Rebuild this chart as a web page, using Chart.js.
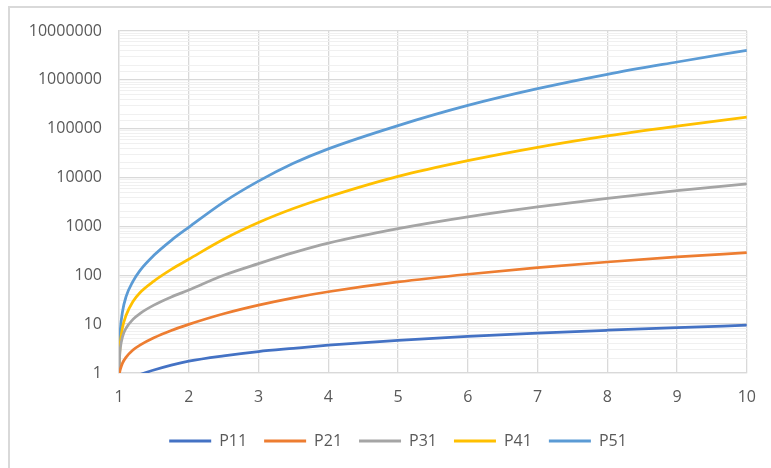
<!DOCTYPE html>
<html>
<head>
<meta charset="utf-8">
<script src="https://cdn.jsdelivr.net/npm/chart.js@4/dist/chart.umd.min.js"></script>
<style>
  html, body { margin: 0; padding: 0; background: #ffffff; overflow: hidden; }
  #frame { position: absolute; left: 8px; top: 6px; width: 900px; height: 600px;
           border-left: 2px solid #d9d9d9; border-top: 2px solid #d9d9d9; }
  #wrap { position: absolute; left: 0; top: 0; width: 771px; height: 468px; }
</style>
</head>
<body>
<div id="frame"></div>
<div id="wrap"><canvas id="chart" width="771" height="468"></canvas></div>
<script>
// x positions of the sampled points
const xs  = [1, 1.01, 1.02, 1.05, 1.1, 1.2, 1.3, 1.5, 1.75, 2, 2.5, 3, 3.5, 4, 5, 6, 7, 8, 9, 10];

// series values (log scale, 1 .. 10^7)
const p11 = [0.55, 0.56, 0.58, 0.62, 0.7, 0.82, 0.93, 1.15, 1.45, 1.75, 2.25, 2.75, 3.2, 3.7, 4.65, 5.6, 6.55, 7.5, 8.5, 9.5];
const p21 = [0.85, 1.05, 1.2, 1.59, 2.09, 2.96, 3.72, 5.26, 7.43, 9.9, 16.3, 24.5, 34.6, 46, 73, 105, 143, 187, 238, 291];
const p31 = [1, 2.3, 3.3, 5.5, 8.2, 12.5, 16.5, 24.5, 36, 50, 100, 173, 290, 454, 898, 1563, 2500, 3760, 5380, 7430];
const p41 = [1, 2.6, 4.2, 8.5, 15, 29, 44, 76, 132, 213, 547, 1200, 2320, 4050, 10600, 22200, 41700, 71500, 113000, 172000];
const p51 = [1, 4.5, 8, 18, 36, 75, 125, 256, 520, 960, 3150, 8450, 19600, 38700, 116000, 300000, 660000, 1300000, 2320000, 4030000];

const seriesNames  = ['P11', 'P21', 'P31', 'P41', 'P51'];
const seriesValues = [p11, p21, p31, p41, p51];
const seriesColors = ['#4472C4', '#ED7D31', '#A5A5A5', '#FFC000', '#5B9BD5'];

// axis tick labels
const xTicks = [1, 2, 3, 4, 5, 6, 7, 8, 9, 10];
const yTicks = [1, 10, 100, 1000, 10000, 100000, 1000000, 10000000];

const isDecade = v => yTicks.includes(v);

const datasets = seriesNames.map((name, i) => ({
  label: name,
  data: xs.map((x, j) => ({ x: x, y: seriesValues[i][j] })),
  borderColor: seriesColors[i],
  backgroundColor: seriesColors[i],
  borderWidth: 2.75,
  pointRadius: 0,
  cubicInterpolationMode: 'monotone',
  fill: false
}));

// centre the legend under the whole chart frame rather than the canvas
const legendOffset = {
  id: 'legendOffset',
  afterLayout(chart) {
    if (chart.legend) { chart.legend.left = 47; }
  }
};

Chart.defaults.font.family = "'Open Sans', 'Noto Sans', sans-serif";
Chart.defaults.font.size = 16;
Chart.defaults.color = '#595959';

new Chart(document.getElementById('chart'), {
  type: 'line',
  data: { datasets: datasets },
  plugins: [legendOffset],
  options: {
    responsive: false,
    animation: false,
    layout: { padding: { left: 0, right: 22, top: 31, bottom: 9 } },
    scales: {
      x: {
        type: 'linear',
        min: xTicks[0],
        max: xTicks[xTicks.length - 1],
        afterBuildTicks: s => { s.ticks = xTicks.map(v => ({ value: v })); },
        afterFit: s => { s.height = 43; },
        ticks: { padding: 15, color: '#595959', font: { size: 16 } },
        grid: { color: '#d9d9d9', lineWidth: 1.3, drawTicks: false },
        border: { color: '#d9d9d9', width: 1.3 }
      },
      y: {
        type: 'logarithmic',
        min: yTicks[0],
        max: yTicks[yTicks.length - 1],
        afterFit: s => { s.width = 119; },
        ticks: {
          autoSkip: false,
          padding: 17,
          color: '#595959',
          font: { size: 16 },
          callback: v => (isDecade(v) ? String(v) : '')
        },
        grid: {
          drawTicks: false,
          color: ctx => (isDecade(ctx.tick.value) ? '#d9d9d9' : '#f0f0f0'),
          lineWidth: ctx => (isDecade(ctx.tick.value) ? 1.3 : 1)
        },
        border: { color: '#d9d9d9', width: 1.3 }
      }
    },
    plugins: {
      legend: {
        position: 'bottom',
        labels: {
          boxWidth: 42,
          boxHeight: 3,
          padding: 17,
          color: '#595959',
          font: { size: 16 },
          generateLabels: chart =>
            Chart.defaults.plugins.legend.labels.generateLabels(chart)
              .map(l => Object.assign(l, { lineWidth: 0 }))
        }
      },
      tooltip: { enabled: false }
    }
  }
});
</script>
</body>
</html>
